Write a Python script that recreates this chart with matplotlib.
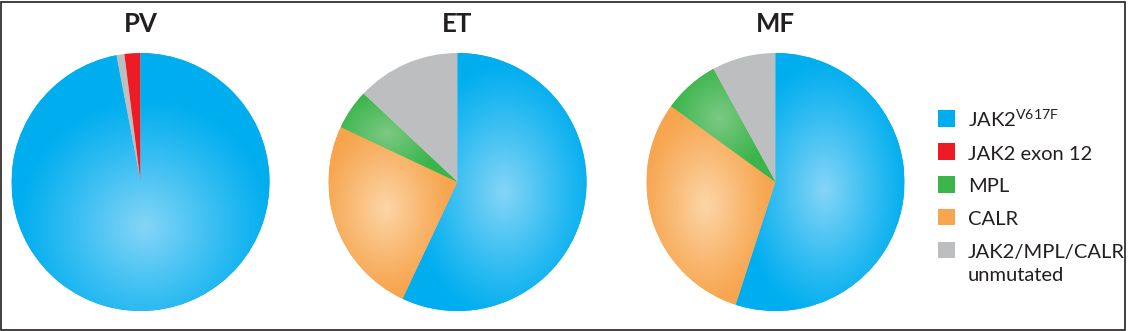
import numpy as np
import matplotlib
matplotlib.use("Agg")
import matplotlib.pyplot as plt
from matplotlib.patches import Rectangle
from matplotlib.colors import to_rgb

plt.rcParams['font.family'] = ['Lato', 'DejaVu Sans']
plt.rcParams['mathtext.fontset'] = 'custom'
plt.rcParams['mathtext.rm'] = 'Lato'
plt.rcParams['mathtext.it'] = 'Lato:italic'
plt.rcParams['mathtext.bf'] = 'Lato:bold'

# ---- data -------------------------------------------------------------
panels = ['PV', 'ET', 'MF']
categories = ['JAK2V617F', 'JAK2 exon 12', 'MPL', 'CALR', 'unmutated']
legend_labels = [r'JAK2$^{\mathrm{V617F}}$', 'JAK2 exon 12', 'MPL', 'CALR',
                 'JAK2/MPL/CALR\nunmutated']
pv_values = [97, 2, 0, 0, 1]
et_values = [57, 0, 5, 25, 13]
mf_values = [55, 0, 7, 30, 8]
# clockwise drawing order starting at 12 o'clock (indices into categories)
pie_order = [0, 3, 2, 4, 1]

base_colors = ['#00AEEF', '#ED1C24', '#39B54A', '#F7A54E', '#BCBEC0']
light_colors = ['#86D5F7', None, '#7DC984', '#FCD6A8', None]

# ---- layout -----------------------------------------------------------
W, H = 1130, 331
fig = plt.figure(figsize=(W / 100, H / 100), dpi=100)
txt_color = '#231F20'

centers = [(140.5, 182), (457.5, 182), (775.5, 182)]
R = 129

N = 500
xs = np.linspace(-1, 1, N)
X, Y = np.meshgrid(xs, xs)

for name, vals, (cx, cy) in zip(panels, [pv_values, et_values, mf_values], centers):
    ax = fig.add_axes([(cx - R) / W, (H - cy - R) / H, 2 * R / W, 2 * R / H])
    v = [vals[i] for i in pie_order]
    cols = [base_colors[i] for i in pie_order]
    wedges, _ = ax.pie(v, colors=cols, startangle=90, counterclock=False,
                       radius=1, wedgeprops=dict(linewidth=0))
    for w, idx, val in zip(wedges, pie_order, v):
        if val == 0 or light_colors[idx] is None:
            continue
        t1, t2 = np.deg2rad(w.theta1), np.deg2rad(w.theta2)
        mid = (t1 + t2) / 2
        alpha = abs(t2 - t1) / 2
        dist = max(2 * np.sin(alpha) / (3 * alpha), 0.35)
        gx, gy = dist * np.cos(mid), dist * np.sin(mid)
        ang = np.linspace(t1, t2, 400)
        px = np.concatenate([[0], np.cos(ang)])
        py = np.concatenate([[0], np.sin(ang)])
        rx = (px.max() - px.min()) / 2
        ry = (py.max() - py.min()) / 2
        d = np.sqrt(((X - gx) / rx) ** 2 + ((Y - gy) / ry) ** 2)
        f = np.clip(1 - d, 0, 1) ** 1.1
        b = np.array(to_rgb(base_colors[idx]))
        l = np.array(to_rgb(light_colors[idx]))
        img = b[None, None, :] + (l - b)[None, None, :] * f[..., None]
        im = ax.imshow(img, extent=(-1, 1, -1, 1), origin='lower',
                       interpolation='bilinear', zorder=w.get_zorder() + 0.1)
        im.set_clip_path(w)
    ax.set_xlim(-1, 1)
    ax.set_ylim(-1, 1)
    ax.set_aspect('equal')
    ax.axis('off')
    fig.text(cx / W, 1 - 31.7 / H, name, ha='center', va='baseline',
             fontsize=18.5, fontweight='bold', color=txt_color)

# ---- legend -----------------------------------------------------------
base0 = 126.7
step = 32.9
line_gap = 23
for k, (lab, col) in enumerate(zip(legend_labels, base_colors)):
    bl = base0 + k * step
    fig.patches.append(Rectangle((938 / W, (H - bl) / H), 17 / W, 16.5 / H,
                                 transform=fig.transFigure, color=col, lw=0))
    for j, line in enumerate(lab.split('\n')):
        fig.text(968 / W, 1 - (bl + j * line_gap) / H, line, ha='left',
                 va='baseline', fontsize=14.5, color=txt_color)

# ---- border -----------------------------------------------------------
fig.patches.append(Rectangle((1 / W, 1.5 / H), 1124 / W, 327.5 / H,
                             transform=fig.transFigure, fill=False,
                             ec=txt_color, lw=1.2))

fig.savefig('out.png', dpi=100)
